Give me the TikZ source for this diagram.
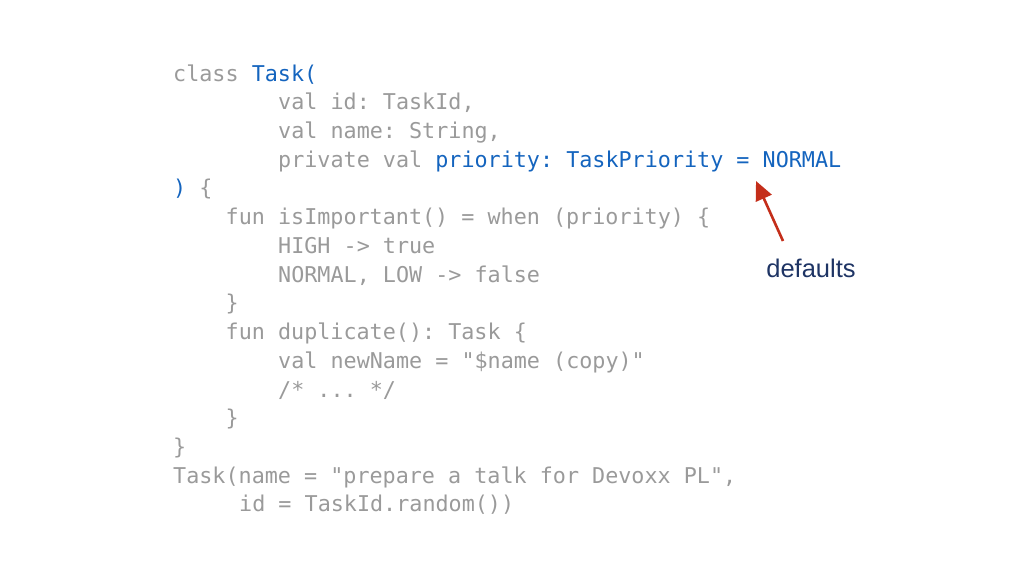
\documentclass[tikz,border=0pt]{standalone}
\usepackage{fontspec}
\usepackage{xcolor}
\usepackage{tikz}
\usetikzlibrary{arrows.meta}
\newfontfamily\codefont{DejaVu Sans Mono}
\newfontfamily\labelfont{Liberation Sans}
\definecolor{codegray}{HTML}{9A9A9A}
\definecolor{codeblue}{HTML}{1464BE}
\definecolor{notered}{HTML}{C42E1A}
\definecolor{notenavy}{HTML}{1E3464}

\begin{document}
\begin{tikzpicture}[x=1pt,y=-1pt,code/.style={anchor=base west,inner sep=0pt,text=codegray,font=\codefont\frenchspacing\fontsize{21.75}{26}\selectfont},note/.style={-{Triangle[length=19pt,width=17pt]},notered,line width=2.6pt},notetext/.style={text=notenavy,font=\labelfont\fontsize{25.5}{30}\selectfont}]
\useasboundingbox (0,0) rectangle (1024,576);
% class header
\node[code] (l1) at (173,81) {class \textcolor{codeblue}{Task(}};
\node[code] (l2) at (278,109.7) {val id: TaskId,};
\node[code] (l3) at (278,138.5) {val name: String,};
\node[code] (l4) at (278,167.2) {private val \textcolor{codeblue}{priority: TaskPriority = NORMAL}};
\node[code] (l5) at (173,195.9) {\textcolor{codeblue}{)} \{};
% body
\node[code] (l6) at (225.5,224.7) {fun isImportant() = when (priority) \{};
\node[code] (l7) at (278,253.4) {HIGH -> true};
\node[code] (l8) at (278,282.1) {NORMAL, LOW -> false};
\node[code] (l9) at (225.5,310.8) {\}};
\node[code] (l10) at (225.5,339.6) {fun duplicate(): Task \{};
\node[code] (l11) at (278,368.3) {val newName = "\$name (copy)"};
\node[code] (l12) at (278,397) {/* ... */};
\node[code] (l13) at (225.5,425.7) {\}};
\node[code] (l14) at (173,454.5) {\}};
% call
\node[code] (l15) at (173,483.2) {Task(name = "prepare a talk for Devoxx PL",};
\node[code] (l16) at (239,511.9) {id = TaskId.random())};
% note
\node[notetext] (defaults) at (811,268) {defaults};
\coordinate (tail) at (783,241);
\coordinate (tip) at (756,181);
\draw[note] (tail) -- (tip);
\end{tikzpicture}
\end{document}
